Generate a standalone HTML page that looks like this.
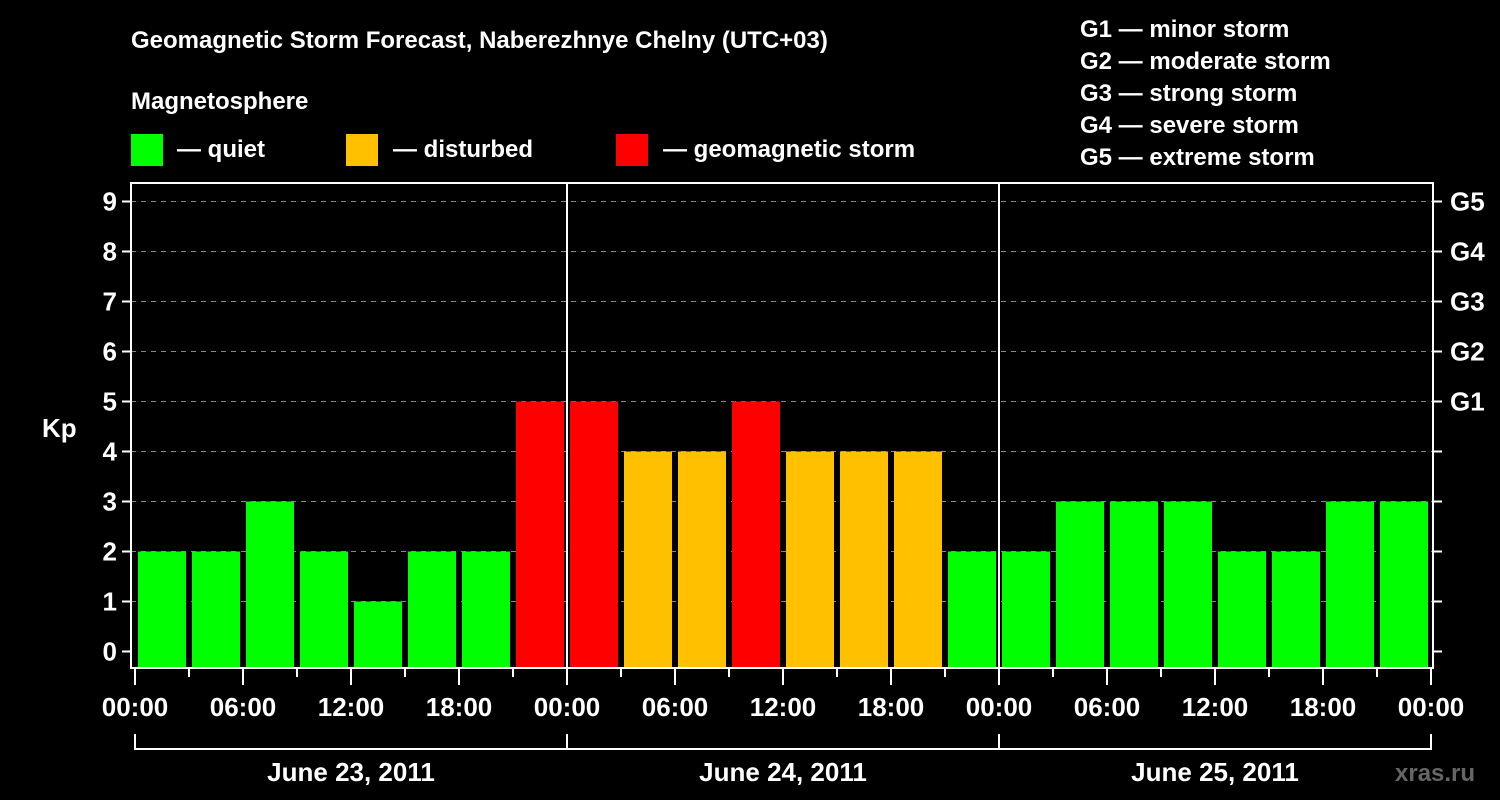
<!DOCTYPE html>
<html><head><meta charset="utf-8"><style>
html,body{margin:0;padding:0;background:#000;width:1500px;height:800px;overflow:hidden}
svg text{font-family:"Liberation Sans",Arial,sans-serif;font-weight:bold;fill:#fff}
</style></head><body>
<svg id="chart" width="1500" height="800" xmlns="http://www.w3.org/2000/svg">
<rect width="1500" height="800" fill="#000"/>
<text x="131" y="48" font-size="24">Geomagnetic Storm Forecast, Naberezhnye Chelny (UTC+03)</text>
<text x="131" y="109" font-size="24">Magnetosphere</text>
<g><rect x="131" y="134" width="32" height="32" fill="#00ff00"/><text x="177" y="157" font-size="24">— quiet</text></g>
<g><rect x="346" y="134" width="32" height="32" fill="#ffc000"/><text x="393" y="157" font-size="24">— disturbed</text></g>
<g><rect x="616" y="134" width="32" height="32" fill="#ff0000"/><text x="663" y="157" font-size="24">— geomagnetic storm</text></g>
<g font-size="24">
<text x="1080" y="37">G1 — minor storm</text>
<text x="1080" y="69">G2 — moderate storm</text>
<text x="1080" y="101">G3 — strong storm</text>
<text x="1080" y="133">G4 — severe storm</text>
<text x="1080" y="165">G5 — extreme storm</text>
</g>
<text x="42" y="437" font-size="26">Kp</text>
<text x="1395" y="781" font-size="24" style="fill:#666">xras.ru</text>
<g id="grid"></g><g id="bars"></g><g id="axes"></g>
</svg>
<script>
const days = ["June 23, 2011","June 24, 2011","June 25, 2011"];
const kp = [2,2,3,2,1,2,2,5, 5,4,4,5,4,4,4,2, 2,3,3,3,2,2,3,3];
const yTicks = [0,1,2,3,4,5,6,7,8,9];
const gLabels = ["G1","G2","G3","G4","G5"];
const gLevels = [5,6,7,8,9];
const hourLabels = ["00:00","06:00","12:00","18:00"];

const NS="http://www.w3.org/2000/svg";
const X0=135, DAYW=432, TOP=183, BOT=668, LEFT=131, RIGHT=1433;
const y = v => 651.5 - v*50;
const xh = h => X0 + h*18;
function mk(tag, attrs, parent, txt){const e=document.createElementNS(NS,tag);for(const k in attrs)e.setAttribute(k,attrs[k]);if(txt!==undefined)e.textContent=txt;parent.appendChild(e);return e;}
const grid=document.getElementById('grid'), bars=document.getElementById('bars'), axes=document.getElementById('axes');
yTicks.forEach(v=>{
  if(v>0){const l=mk('line',{x1:LEFT,x2:RIGHT,y1:y(v),y2:y(v),stroke:'#888','stroke-width':1,'stroke-dasharray':'5,5'},grid);
  
  }
  mk('line',{x1:122,x2:LEFT,y1:y(v),y2:y(v),stroke:'#fff','stroke-width':2},axes);
  mk('line',{x1:RIGHT,x2:1442,y1:y(v),y2:y(v),stroke:'#fff','stroke-width':2},axes);
  const t=mk('text',{x:117,y:y(v)+9,'font-size':26,'text-anchor':'end'},axes,String(v));
  
  
});
gLevels.forEach((v,i)=>{
  const t=mk('text',{x:1450,y:y(v)+9,'font-size':26},axes,gLabels[i]);
  
  
});
kp.forEach((v,i)=>{
  const col = v>=5?'#ff0000':(v>=4?'#ffc000':'#00ff00');
  const top=y(v);
  const r=mk('rect',{x:xh(i*3)+3,y:top,width:48,height:BOT-top,fill:col},bars);
  
  
});
const f=mk('rect',{x:LEFT,y:TOP,width:RIGHT-LEFT,height:BOT-TOP,fill:'none',stroke:'#fff','stroke-width':2},axes);


for(let d=1; d<days.length; d++){
  mk('line',{x1:X0+d*DAYW,x2:X0+d*DAYW,y1:TOP,y2:BOT,stroke:'#fff','stroke-width':2},axes);
}
for(let h=0; h<=72; h+=3){
  const major=h%6===0;
  mk('line',{x1:xh(h),x2:xh(h),y1:BOT,y2:major?685:677,stroke:'#fff','stroke-width':2},axes);
  if(major){
    const t=mk('text',{x:xh(h),y:716,'font-size':26,'text-anchor':'middle'},axes,hourLabels[(h/6)%4]);
    
    
  }
}
mk('line',{x1:X0,x2:X0+days.length*DAYW,y1:749,y2:749,stroke:'#fff','stroke-width':2},axes);
for(let d=0; d<=days.length; d++) mk('line',{x1:X0+d*DAYW,x2:X0+d*DAYW,y1:734,y2:750,stroke:'#fff','stroke-width':2},axes);
days.forEach((s,d)=>{
  const t=mk('text',{x:X0+d*DAYW+DAYW/2,y:781,'font-size':26,'text-anchor':'middle'},axes,s);
  
  
});
</script>
</body></html>
